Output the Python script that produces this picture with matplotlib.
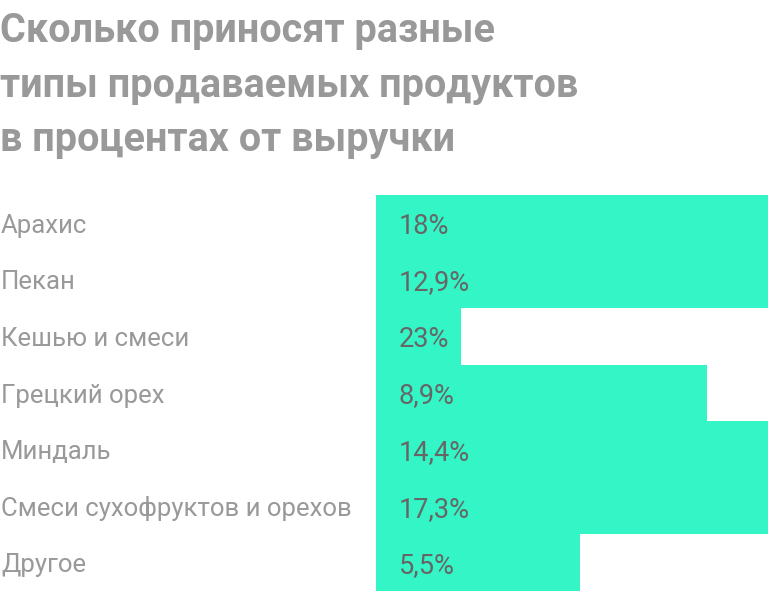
import matplotlib
matplotlib.use("Agg")
import matplotlib.pyplot as plt
import matplotlib.transforms as mtrans

# data
categories = ["Арахис", "Пекан", "Кешью и смеси", "Грецкий орех",
              "Миндаль", "Смеси сухофруктов и орехов", "Другое"]
value_labels = ["18%", "12,9%", "23%", "8,9%", "14,4%", "17,3%", "5,5%"]
# bar lengths as drawn, in % of the plot area width (full ones run off the edge)
bar_lengths = [100, 100, 21.7, 84.4, 100, 100, 52.0]

title_lines = ["Сколько приносят разные",
               "типы продаваемых продуктов",
               "в процентах от выручки"]

W, H = 768, 591
GREEN = "#33f5c5"
TITLE_GRAY = "#999999"
LABEL_GRAY = "#999999"
VALUE_GRAY = "#666666"

plt.rcParams['font.family'] = ['Roboto', 'DejaVu Sans']

fig = plt.figure(figsize=(W / 100, H / 100), dpi=100)
ax = fig.add_axes([376 / W, 0, 392 / W, 396 / H])

ypos = list(range(len(categories)))
ax.barh(ypos, bar_lengths, height=1.0, color=GREEN, linewidth=0)
ax.set_xlim(0, 100)
ax.set_ylim(len(categories) - 0.5, -0.5)
ax.axis("off")

for y, lab in zip(ypos, value_labels):
    ax.text(23 / 392 * 100, y, lab, ha="left", va="center_baseline",
            fontsize=19.5, color=VALUE_GRAY)

tr = mtrans.blended_transform_factory(fig.transFigure, ax.transData)
for y, cat in zip(ypos, categories):
    ax.text(1 / W, y, cat, transform=tr, ha="left", va="center_baseline",
            fontsize=18.5, color=LABEL_GRAY, clip_on=False)

# title baselines in px from the top
for line, base in zip(title_lines, [42.5, 97, 151]):
    fig.text(0, 1 - base / H, line, ha="left", va="baseline",
             fontsize=28.5, fontweight="bold", color=TITLE_GRAY)

fig.savefig("out.png", dpi=100)
